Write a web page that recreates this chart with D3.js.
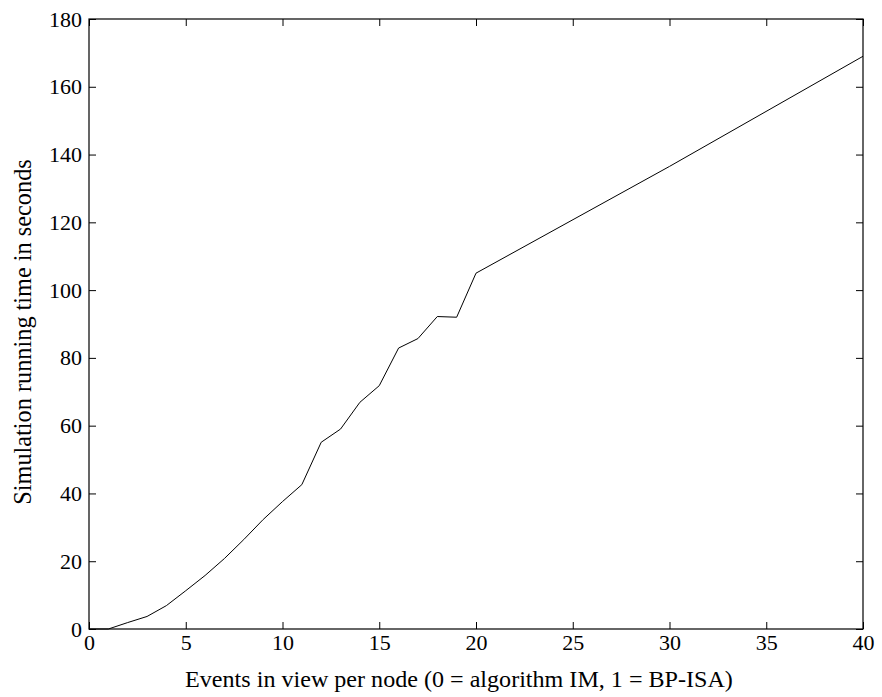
<!DOCTYPE html>
<html>
<head>
<meta charset="utf-8">
<script src="https://cdn.jsdelivr.net/npm/d3@7"></script>
<style>
  body { margin: 0; background: #fff; }
  svg { display: block; }
  .tick text { font-family: "Liberation Serif", "Times New Roman", serif; font-size: 22px; fill: #000; }
  .tick line { stroke: #000; }
  .domain { display: none; }
  .axis-label { font-family: "Liberation Serif", "Times New Roman", serif; fill: #000; }
</style>
</head>
<body>
<div id="chart"></div>
<script>
// events in view per node
const events = [0, 1, 2, 3, 4, 5, 6, 7, 8, 9, 10, 11, 12, 13, 14, 15, 16, 17, 18, 19, 20, 30, 40];
// running time in seconds
const seconds = [0, 0, 1.9, 3.7, 6.9, 11.3, 15.8, 20.8, 26.4, 32.3, 37.6, 42.6, 55.1, 59.0, 66.9, 71.8, 82.9, 85.7, 92.2, 92.0, 105.0, 136.5, 169.0];

const xTicks = [0, 5, 10, 15, 20, 25, 30, 35, 40];
const yTicks = [0, 20, 40, 60, 80, 100, 120, 140, 160, 180];

const width = 882;
const height = 697;
const margin = {top: 19, right: 19, bottom: 68, left: 89};

const svg = d3.select("#chart")
    .append("svg")
    .attr("width", width)
    .attr("height", height);

const x = d3.scaleLinear()
    .domain([0, 40])
    .range([margin.left, width - margin.right]);

const y = d3.scaleLinear()
    .domain([0, 180])
    .range([height - margin.bottom, margin.top]);

// bottom axis, ticks pointing in
svg.append("g")
    .attr("transform", `translate(0,${y(0)})`)
    .call(d3.axisBottom(x).tickValues(xTicks).tickSize(-7).tickPadding(5).tickFormat(d3.format("d")));

// top axis, ticks only
svg.append("g")
    .attr("transform", `translate(0,${y(180)})`)
    .call(d3.axisTop(x).tickValues(xTicks).tickSize(-7).tickFormat(""));

// left axis
svg.append("g")
    .attr("transform", `translate(${x(0)},0)`)
    .call(d3.axisLeft(y).tickValues(yTicks).tickSize(-7).tickPadding(7).tickFormat(d3.format("d")));

// right axis, ticks only
svg.append("g")
    .attr("transform", `translate(${x(40)},0)`)
    .call(d3.axisRight(y).tickValues(yTicks).tickSize(-7).tickFormat(""));

// frame
svg.append("rect")
    .attr("x", x(0))
    .attr("y", y(180))
    .attr("width", x(40) - x(0))
    .attr("height", y(0) - y(180))
    .attr("fill", "none")
    .attr("stroke", "#000")
    .attr("stroke-width", 1.2);

const line = d3.line()
    .x((d, i) => x(events[i]))
    .y(d => y(d));

svg.append("path")
    .datum(seconds)
    .attr("d", line)
    .attr("fill", "none")
    .attr("stroke", "#000")
    .attr("stroke-width", 1);

svg.append("text")
    .attr("class", "axis-label")
    .attr("x", 459)
    .attr("y", 687)
    .attr("text-anchor", "middle")
    .style("font-size", "24.1px")
    .text("Events in view per node (0 = algorithm IM, 1 = BP-ISA)");

svg.append("text")
    .attr("class", "axis-label")
    .attr("transform", "translate(31,332) rotate(-90)")
    .attr("text-anchor", "middle")
    .style("font-size", "24.3px")
    .text("Simulation running time in seconds");
</script>
</body>
</html>
